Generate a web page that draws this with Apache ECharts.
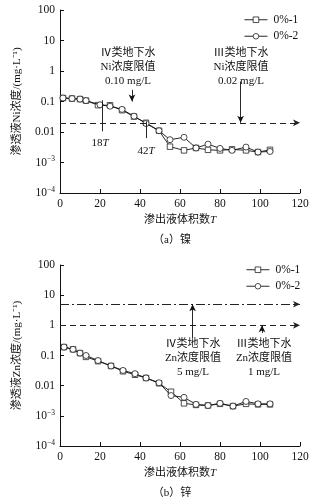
<!DOCTYPE html>
<html><head><meta charset="utf-8">
<script src="https://cdn.jsdelivr.net/npm/echarts@6/dist/echarts.min.js"></script>
<style>html,body{margin:0;padding:0;background:#fff}#c{width:333px;height:500px}</style>
</head><body><div id="c"></div>
<script>
// ---- data ----
const niT1 = [1.5, 6, 10, 13, 19, 25, 31, 37, 43, 49.5, 55, 62, 68, 74, 80, 86, 93, 99, 105];
const ni1  = [0.13, 0.125, 0.12, 0.107, 0.076, 0.075, 0.052, 0.032, 0.02, 0.011, 0.0033, 0.0025, 0.003, 0.0026, 0.0025, 0.0027, 0.0025, 0.0022, 0.0026];
const niT2 = [1.5, 6, 10, 13, 20, 25, 31, 37, 43, 49.5, 55, 62, 68, 74, 80, 86, 93, 99, 105];
const ni2  = [0.13, 0.125, 0.12, 0.107, 0.078, 0.07, 0.055, 0.033, 0.019, 0.011, 0.0056, 0.0067, 0.003, 0.004, 0.0029, 0.0025, 0.0032, 0.0022, 0.0023];
const znT  = [2, 6.5, 10, 13, 19, 25.5, 31.5, 37.5, 43, 49.5, 55.5, 62, 68, 74, 80, 86.5, 93, 99, 105];
const zn1  = [0.19, 0.16, 0.12, 0.09, 0.065, 0.045, 0.03, 0.023, 0.018, 0.012, 0.0063, 0.0026, 0.0023, 0.0022, 0.0025, 0.0021, 0.0025, 0.0024, 0.0024];
const zn2  = [0.19, 0.16, 0.12, 0.1, 0.068, 0.045, 0.032, 0.025, 0.018, 0.0125, 0.0047, 0.0041, 0.0024, 0.0022, 0.0026, 0.0021, 0.003, 0.0025, 0.0025];
const seriesNames = ['0%-1', '0%-2'];
const xTicks = [0, 20, 40, 60, 80, 100, 120];
const yMin = 1e-4, yMax = 100;
// limits
const niLimitIII = 0.02;
const znLimitIV = 5, znLimitIII = 1;

const FONT = "'Liberation Serif','Noto Sans CJK SC',serif";
const zip = (a, b) => a.map((t, i) => [t, b[i]]);

function yFmt(v) {
  const e = Math.round(Math.log10(v));
  if (e >= -2) return String(Math.pow(10, e) >= 1 ? Math.pow(10, e) : Number(Math.pow(10, e).toFixed(-e)));
  return '{b|10}{s|−' + (-e) + '}';
}

function xAxis(gi) {
  return {
    gridIndex: gi, type: 'value', min: xTicks[0], max: xTicks[xTicks.length - 1], interval: 20,
    name: '渗出液体积数{i|T}', nameLocation: 'middle', nameGap: 22,
    nameTextStyle: { fontFamily: FONT, fontSize: 11, color: '#111', rich: { i: { fontStyle: 'italic', fontFamily: FONT, fontSize: 11, color: '#111' } } },
    axisLine: { lineStyle: { color: '#111', width: 1 } },
    axisTick: { inside: true, length: 4, lineStyle: { color: '#111' } },
    axisLabel: { fontFamily: FONT, fontSize: 11.5, color: '#111', margin: 5 },
    splitLine: { show: false }
  };
}
function yAxis(gi, name) {
  return {
    gridIndex: gi, type: 'log', logBase: 10, min: yMin, max: yMax,
    name: name, nameLocation: 'middle', nameGap: 37, nameRotate: 90,
    nameTextStyle: { fontFamily: FONT, fontSize: 11, color: '#111' },
    axisLine: { show: true, lineStyle: { color: '#111', width: 1 } },
    axisTick: { show: true, inside: true, length: 4, lineStyle: { color: '#111' } },
    minorTick: { show: false },
    axisLabel: {
      fontFamily: FONT, fontSize: 11.5, color: '#111', margin: 5, formatter: yFmt,
      rich: { b: { fontFamily: FONT, fontSize: 11.5, color: '#111' }, s: { fontFamily: FONT, fontSize: 7.5, color: '#111', verticalAlign: 'top', padding: [0, 0, 6, 0] } }
    },
    splitLine: { show: false }
  };
}
function dataSeries(gi, name, t, v, sym, size) {
  return {
    name: name, type: 'line', xAxisIndex: gi, yAxisIndex: gi, data: zip(t, v),
    symbol: sym, symbolSize: size, showSymbol: true,
    lineStyle: { color: '#111', width: 0.9 }, itemStyle: { color: '#fff', borderColor: '#222', borderWidth: 0.8 },
    z: name === seriesNames[1] ? 3 : 2, animation: false
  };
}
const lblStyle = { fontFamily: FONT, fontSize: 11, color: '#111', lineHeight: 14, align: 'center', verticalAlign: 'middle',
  rich: { i: { fontStyle: 'italic', fontFamily: FONT, fontSize: 11, color: '#111' } } };
function textPt(coord, text) {
  return { coord: coord, symbol: 'circle', symbolSize: 0.1, itemStyle: { color: 'transparent' },
    label: Object.assign({ show: true, position: 'inside', formatter: text }, lblStyle) };
}
function seg(a, b, arrow, type) {
  return [{ coord: a, symbol: 'none', lineStyle: { type: type || 'solid' } },
          { coord: b, symbol: arrow ? 'arrow' : 'none' }];
}
function annSeries(gi, hlines, segs, texts) {
  return {
    name: 'ann' + gi, type: 'line', xAxisIndex: gi, yAxisIndex: gi, data: [], silent: true, animation: false,
    markLine: {
      silent: true, animation: false, symbolSize: [5, 7], label: { show: false },
      lineStyle: { color: '#111', width: 0.9 },
      data: hlines.map(h => ({ yAxis: h.v, symbol: 'none', lineStyle: { type: h.type, color: '#222', width: 1 } })).concat(segs)
    },
    markPoint: { silent: true, animation: false, data: texts }
  };
}
const legendText = { fontFamily: FONT, fontSize: 11.5, color: '#111', padding: [0, 0, 0, 1] };
const legendBase = { data: seriesNames, orient: 'vertical', itemWidth: 23, itemHeight: 7, itemGap: 5, padding: 0,
  textStyle: legendText, lineStyle: { width: 0.9, color: '#111' }, itemStyle: { color: '#fff', borderColor: '#222', borderWidth: 0.8 } };

const option = {
  backgroundColor: '#fff',
  animation: false,
  title: [
    { text: '（a）镍', left: 167, top: 230, textAlign: 'center', textStyle: { fontFamily: FONT, fontSize: 11, fontWeight: 'normal', color: '#111' } },
    { text: '（b）锌', left: 167, top: 483, textAlign: 'center', textStyle: { fontFamily: FONT, fontSize: 11, fontWeight: 'normal', color: '#111' } }
  ],
  grid: [
    { left: 60, right: 33, top: 10, bottom: 307 },
    { left: 60, right: 33, top: 265, bottom: 54 }
  ],
  legend: [
    Object.assign({ left: 244, top: 14 }, legendBase),
    Object.assign({ left: 246, top: 264 }, legendBase)
  ],
  xAxis: [xAxis(0), xAxis(1)],
  yAxis: [yAxis(0, '渗透液Ni浓度/(mg·L⁻¹)'), yAxis(1, '渗透液Zn浓度/(mg·L⁻¹)')],
  series: [
    dataSeries(0, seriesNames[0], niT1, ni1, 'rect', 5.5),
    dataSeries(0, seriesNames[1], niT2, ni2, 'circle', 6),
    dataSeries(1, seriesNames[0], znT, zn1, 'rect', 5.5),
    dataSeries(1, seriesNames[1], znT, zn2, 'circle', 6),
    annSeries(0,
      [{ v: niLimitIII, type: [6, 4] }],
      [seg([36, 0.24], [36, 0.1], true), seg([90.3, 0.45], [90.3, niLimitIII], true),
       seg([21, 0.11], [21, 0.0105], false), seg([43.3, 0.022], [43.3, 0.0063], false)],
      [textPt([34, 1.3], 'Ⅳ类地下水\nNi浓度限值\n0.10 mg/L'),
       textPt([90.5, 1.3], 'Ⅲ类地下水\nNi浓度限值\n0.02 mg/L'),
       textPt([20, 0.0043], '18{i|T}'),
       textPt([43, 0.0023], '42{i|T}')]),
    annSeries(1,
      [{ v: znLimitIV, type: [9, 3, 2, 3] }, { v: znLimitIII, type: [6, 4] }],
      [seg([66.3, 0.38], [66.3, znLimitIV], true), seg([101, 0.56], [101, znLimitIII], true)],
      [textPt([66.5, 0.085], 'Ⅳ类地下水\nZn浓度限值\n5 mg/L'),
       textPt([102, 0.085], 'Ⅲ类地下水\nZn浓度限值\n1 mg/L')])
  ]
};
echarts.init(document.getElementById('c'), null, { renderer: 'canvas' }).setOption(option);
</script></body></html>
